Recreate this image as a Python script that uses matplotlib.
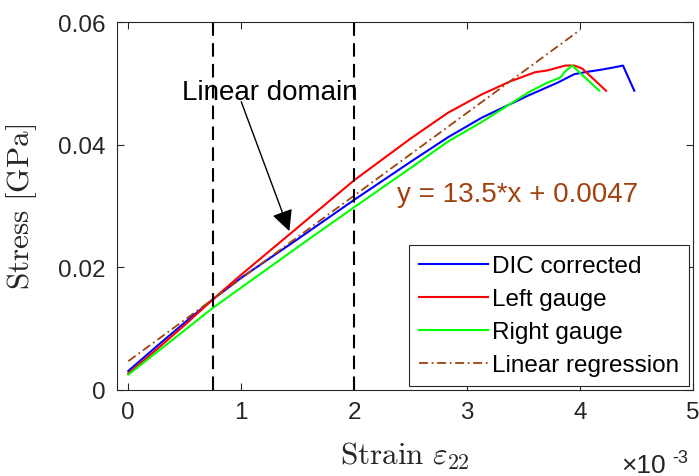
import matplotlib
matplotlib.use("Agg")
import matplotlib.pyplot as plt
import matplotlib.ticker as ticker

plt.rcParams["font.family"] = ["Liberation Sans", "DejaVu Sans"]
plt.rcParams["mathtext.fontset"] = "cm"

# Data (strain in absolute units, stress in GPa)
dic_x = [0, 0.25e-3, 0.5e-3, 0.75e-3, 1.0e-3, 1.5e-3, 2.0e-3, 2.5e-3, 2.83e-3, 3.13e-3,
         3.54e-3, 3.8e-3, 3.95e-3, 4.07e-3, 4.18e-3, 4.3e-3, 4.38e-3, 4.48e-3]
dic_y = [0.0031, 0.0071, 0.0110, 0.0148, 0.0183, 0.0246, 0.0310, 0.0372, 0.0412, 0.0444,
         0.0480, 0.0501, 0.0515, 0.0519, 0.0522, 0.0526, 0.0529, 0.0488]

left_x = [0, 0.25e-3, 0.5e-3, 0.75e-3, 1.0e-3, 1.5e-3, 2.0e-3, 2.5e-3, 2.83e-3, 3.13e-3,
          3.38e-3, 3.6e-3, 3.71e-3, 3.87e-3, 3.95e-3, 4.02e-3, 4.23e-3]
left_y = [0.0027, 0.0066, 0.0106, 0.0148, 0.0188, 0.0265, 0.0342, 0.0410, 0.0452, 0.0482,
          0.0503, 0.0518, 0.0521, 0.0529, 0.0529, 0.0524, 0.0488]

right_x = [0, 0.75e-3, 1.0e-3, 1.5e-3, 2.0e-3, 2.5e-3, 2.83e-3, 3.13e-3, 3.55e-3,
           3.71e-3, 3.83e-3, 3.86e-3, 3.93e-3, 4.17e-3]
right_y = [0.0025, 0.0134, 0.0167, 0.0233, 0.0298, 0.0362, 0.0405, 0.0437, 0.0486,
           0.0501, 0.0510, 0.0518, 0.0529, 0.0488]

reg_x = [0, 4.0e-3]
reg_y = [0.0047, 0.0587]

domain_x = [0.75e-3, 2.0e-3]

x_ticks = [0, 1e-3, 2e-3, 3e-3, 4e-3, 5e-3]
y_ticks = [0, 0.02, 0.04, 0.06]

REG_COLOR = "#A0420E"
AX_COLOR = "#262626"

fig = plt.figure(figsize=(6.99, 4.77), dpi=100)
ax = fig.add_axes([117 / 699, 1 - 391 / 477, 576 / 699, 368 / 477])

ax.plot(dic_x, dic_y, color="#0000FF", lw=1.5, label="DIC corrected")
ax.plot(left_x, left_y, color="#FF0000", lw=1.5, label="Left gauge")
ax.plot(right_x, right_y, color="#00FF00", lw=1.5, label="Right gauge")
ax.plot(reg_x, reg_y, color=REG_COLOR, lw=1.3, linestyle=(0, (5, 2, 1, 2)),
        label="Linear regression")

for xv in domain_x:
    ax.axvline(xv, color="k", lw=1.5, linestyle=(0, (6.5, 3.5)))

ax.set_xlim(-0.1e-3, 5e-3)
ax.set_ylim(0, 0.06)
ax.set_xticks(x_ticks)
ax.set_yticks(y_ticks)
ax.xaxis.set_major_formatter(ticker.FuncFormatter(lambda v, _: f"{v * 1e3:g}"))
ax.yaxis.set_major_formatter(ticker.FuncFormatter(lambda v, _: "0" if v == 0 else f"{v:.2f}"))
ax.tick_params(direction="in", length=5, width=0.8, top=True, right=True,
               labelsize=17.5, colors=AX_COLOR, pad=8)
for s in ax.spines.values():
    s.set_color(AX_COLOR)
    s.set_linewidth(0.8)

ax.set_xlabel(r"$\mathrm{Strain}\ \varepsilon_{22}$", fontsize=22.5, color=AX_COLOR, labelpad=12)
ax.set_ylabel(r"$\mathrm{Stress\ [GPa]}$", fontsize=22.5, color=AX_COLOR, labelpad=14)

# offset text x10^-3
fig.text(621 / 699, 1 - 473 / 477, "\u00d710", fontsize=19, color=AX_COLOR,
         ha="left", va="baseline")
fig.text(672 / 699, 1 - 463 / 477, "-3", fontsize=13, color=AX_COLOR,
         ha="left", va="baseline")

# annotations
ax.annotate("", xy=(1.426e-3, 0.0259), xytext=(1.0e-3, 0.0470),
            arrowprops=dict(arrowstyle="-|>", color="k", lw=1.0, mutation_scale=32,
                            shrinkA=0, shrinkB=0))
ax.text(1.25e-3, 0.0474, "Linear domain", fontsize=20, ha="center", va="baseline",
        color="k")
ax.text(2.38e-3, 0.0308, "y = 13.5*x + 0.0047", fontsize=20, ha="left", va="baseline",
        color=REG_COLOR)

leg = ax.legend(loc="lower right", fontsize=17.5, frameon=True, fancybox=False,
                framealpha=1, edgecolor=AX_COLOR, borderaxespad=0.15,
                handlelength=2.85, handletextpad=0.15, labelspacing=0.45,
                borderpad=0.42)
leg.get_frame().set_linewidth(0.8)

fig.savefig("out.png", dpi=100)
